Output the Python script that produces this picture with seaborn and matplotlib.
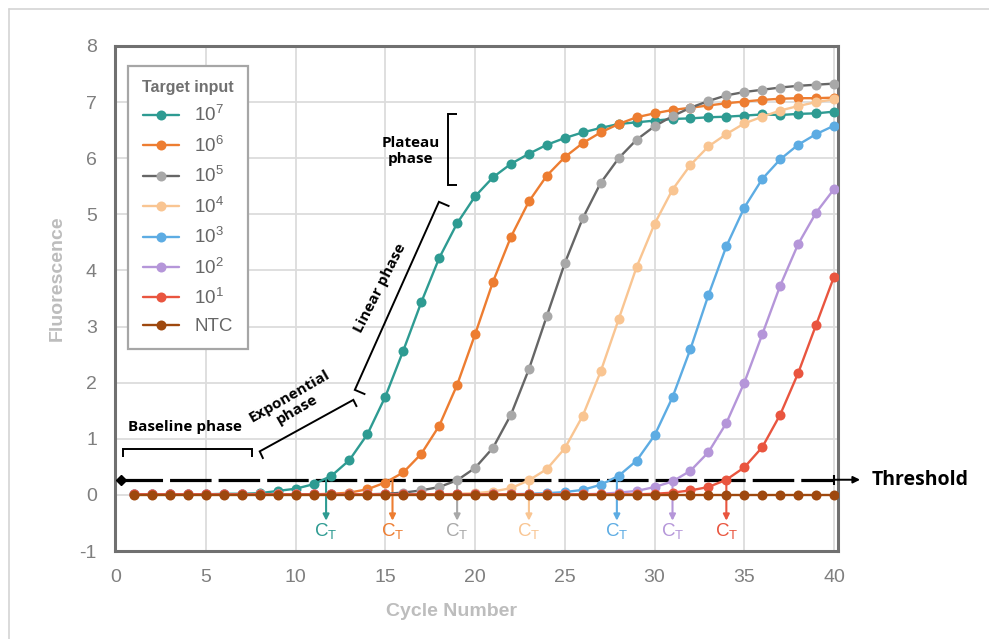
import numpy as np
import pandas as pd
import matplotlib
matplotlib.use("Agg")
import matplotlib.pyplot as plt
import seaborn as sns
from matplotlib.lines import Line2D

# ---------------- data ----------------
cycles = list(range(1, 41))
targets = ["10$^7$", "10$^6$", "10$^5$", "10$^4$", "10$^3$", "10$^2$", "10$^1$", "NTC"]

f_1e7 = [0.01, 0.01, 0.01, 0.01, 0.01, 0.02, 0.02, 0.03, 0.07, 0.11,
         0.19, 0.34, 0.62, 1.08, 1.75, 2.57, 3.43, 4.22, 4.84, 5.32,
         5.66, 5.90, 6.08, 6.24, 6.36, 6.46, 6.54, 6.61, 6.64, 6.67,
         6.70, 6.71, 6.73, 6.74, 6.76, 6.78, 6.77, 6.79, 6.80, 6.83]
f_1e6 = [0.01, 0.01, 0.01, 0.01, 0.01, 0.01, 0.01, 0.01, 0.01, 0.01,
         0.01, 0.02, 0.04, 0.10, 0.22, 0.40, 0.73, 1.23, 1.96, 2.86,
         3.80, 4.60, 5.23, 5.69, 6.02, 6.27, 6.46, 6.61, 6.73, 6.80,
         6.86, 6.90, 6.94, 6.98, 7.01, 7.04, 7.06, 7.07, 7.07, 7.08]
f_1e5 = [0.01, 0.01, 0.01, 0.01, 0.01, 0.01, 0.01, 0.01, 0.01, 0.01,
         0.01, 0.01, 0.01, 0.01, 0.02, 0.04, 0.08, 0.14, 0.26, 0.48,
         0.84, 1.43, 2.24, 3.19, 4.13, 4.93, 5.56, 6.00, 6.33, 6.57,
         6.75, 6.90, 7.02, 7.12, 7.18, 7.22, 7.26, 7.29, 7.31, 7.33]
f_1e4 = [0.01, 0.01, 0.01, 0.01, 0.01, 0.01, 0.01, 0.01, 0.01, 0.01,
         0.01, 0.01, 0.01, 0.01, 0.01, 0.01, 0.01, 0.01, 0.02, 0.03,
         0.06, 0.12, 0.26, 0.46, 0.83, 1.41, 2.20, 3.13, 4.06, 4.83,
         5.44, 5.88, 6.21, 6.43, 6.62, 6.74, 6.85, 6.93, 7.00, 7.05]
f_1e3 = [0.01, 0.01, 0.01, 0.01, 0.01, 0.01, 0.01, 0.01, 0.01, 0.01,
         0.01, 0.01, 0.01, 0.01, 0.01, 0.01, 0.01, 0.01, 0.01, 0.01,
         0.01, 0.01, 0.02, 0.03, 0.05, 0.09, 0.18, 0.34, 0.61, 1.06,
         1.74, 2.60, 3.56, 4.43, 5.12, 5.63, 5.98, 6.24, 6.43, 6.58]
f_1e2 = [0.01, 0.01, 0.01, 0.01, 0.01, 0.01, 0.01, 0.01, 0.01, 0.01,
         0.01, 0.01, 0.01, 0.01, 0.01, 0.01, 0.01, 0.01, 0.01, 0.01,
         0.01, 0.01, 0.01, 0.01, 0.01, 0.01, 0.02, 0.04, 0.07, 0.14,
         0.24, 0.43, 0.76, 1.28, 2.00, 2.86, 3.73, 4.47, 5.03, 5.45]
f_1e1 = [0.01, 0.01, 0.01, 0.01, 0.01, 0.01, 0.01, 0.01, 0.01, 0.01,
         0.01, 0.01, 0.01, 0.01, 0.01, 0.01, 0.01, 0.01, 0.01, 0.01,
         0.01, 0.01, 0.01, 0.01, 0.01, 0.01, 0.01, 0.01, 0.01, 0.02,
         0.04, 0.08, 0.14, 0.27, 0.49, 0.85, 1.43, 2.17, 3.03, 3.89]
f_ntc = [0.0] * 40

series = [f_1e7, f_1e6, f_1e5, f_1e4, f_1e3, f_1e2, f_1e1, f_ntc]

line_colors = ["#2E9B92", "#ED7D31", "#666666", "#F9C592", "#5DACE3", "#B596D9", "#E9553F", "#9E480E"]
marker_colors = ["#2E9B92", "#ED7D31", "#A8A8A8", "#F9C592", "#5DACE3", "#B596D9", "#E9553F", "#9E480E"]

ct_values = [11.7, 15.4, 19.0, 23.0, 27.9, 31.0, 34.0]
threshold = 0.27

x_ticks = list(range(0, 41, 5))
y_ticks = list(range(-1, 9))

# ---------------- style ----------------
sns.set_style("white")
plt.rcParams["font.family"] = ["Liberation Sans", "DejaVu Sans"]
plt.rcParams["mathtext.default"] = "regular"
plt.rcParams["axes.unicode_minus"] = False

fig = plt.figure(figsize=(9.89, 6.39), dpi=100)
W, H = 989, 639
ax = fig.add_axes([115 / W, 1 - 551 / H, (838 - 115) / W, (551 - 46) / H])

df = pd.DataFrame({
    "cycle": np.tile(cycles, len(targets)),
    "fluorescence": np.concatenate(series),
    "target": np.repeat(targets, len(cycles)),
})

for i, (name, lc, mc) in enumerate(zip(targets, line_colors, marker_colors)):
    sub = df[df["target"] == name]
    sns.lineplot(data=sub, x="cycle", y="fluorescence", ax=ax, color=lc,
                 marker="o", markersize=7.2, markerfacecolor=mc, markeredgecolor=mc,
                 markeredgewidth=0, linewidth=1.7, label=name, errorbar=None,
                 zorder=4 + i * 0.1, legend=False)

ax.set_xlim(-0.06, 40.22)
ax.set_ylim(-1, 8)
ax.set_xticks(x_ticks)
ax.set_yticks(y_ticks)
ax.grid(True, color="#dcdcdc", linewidth=1.3)
ax.set_axisbelow(True)
for s in ax.spines.values():
    s.set_color("#707070")
    s.set_linewidth(2.2)
ax.tick_params(axis="both", length=0, labelsize=14, labelcolor="#7f7f7f")
ax.tick_params(axis="y", pad=13)
ax.tick_params(axis="x", pad=13)

ax.set_xlabel("Cycle Number", fontsize=14, fontweight="bold", color="#bdbdbd", va="center")
ax.set_ylabel("Fluorescence", fontsize=14, fontweight="bold", color="#bdbdbd", va="center")
ax.xaxis.set_label_coords((452 - 115) / 723, (551 - 611) / 505)
ax.yaxis.set_label_coords((57 - 115) / 723, (551 - 278) / 505)

# ---------------- threshold ----------------
ax.plot([0.3, 40.0], [threshold, threshold], color="black", lw=2.3,
        dashes=(13, 2.2), zorder=3, solid_capstyle="butt")
ax.plot([0.3], [threshold], marker="D", color="black", markersize=5.5, zorder=3.2, clip_on=False)
ax.plot([40.0], [threshold], marker="|", color="black", markersize=7, mew=1.5, zorder=3.2, clip_on=False)
ax.annotate("", xy=(41.45, threshold), xytext=(40.0, threshold),
            arrowprops=dict(arrowstyle="-|>", color="black", lw=1.4, mutation_scale=10,
                            shrinkA=0, shrinkB=0), annotation_clip=False)
ax.text(42.1, threshold, "Threshold", fontsize=14, fontweight="bold",
        family=["Open Sans", "DejaVu Sans"],
        va="center", ha="left", color="black", clip_on=False)

# ---------------- CT markers ----------------
for ct, c in zip(ct_values, marker_colors[:7]):
    ax.annotate("", xy=(ct, -0.46), xytext=(ct, threshold),
                arrowprops=dict(arrowstyle="-|>", color=c, lw=1.5, mutation_scale=9,
                                shrinkA=0, shrinkB=0), zorder=3.5)
    ax.text(ct, -0.64, r"C$_T$", color=c, fontsize=13.5, ha="center", va="center")


# ---------------- phase annotations ----------------
def P(px, py):
    return (px - 116) / 17.93, (495 - py) / 56.1


def bracket(points):
    xs, ys = zip(*[P(*p) for p in points])
    ax.plot(xs, ys, color="black", lw=1.4, zorder=6, solid_capstyle="butt",
            solid_joinstyle="miter", clip_on=False)


afont = dict(fontsize=11, fontweight="bold", family=["Open Sans", "DejaVu Sans"], color="black")

# Baseline
bracket([(123, 457), (123, 449), (252, 449), (252, 457)])
x, y = P(185, 427)
ax.text(x, y, "Baseline phase", ha="center", va="center", **afont)

# Exponential
bracket([(263, 459), (259.5, 451.5), (353, 400), (356.5, 407)])
x, y = P(293, 403)
ax.text(x, y, "Exponential\nphase", ha="center", va="center", rotation=30,
        rotation_mode="anchor", multialignment="center", linespacing=1.1, **afont)

# Linear
bracket([(365, 394.5), (354.5, 390), (438.5, 202), (449, 206.5)])
x, y = P(380, 288)
ax.text(x, y, "Linear phase", ha="center", va="center", rotation=63,
        rotation_mode="anchor", **afont)

# Plateau
bracket([(457, 114), (448, 114), (448, 185), (457, 185)])
x, y = P(410, 151)
ax.text(x, y, "Plateau\nphase", ha="center", va="center", multialignment="center",
        linespacing=1.2, **afont)

# ---------------- legend ----------------
handles, labels = ax.get_legend_handles_labels()
leg = ax.legend(handles, labels, title="Target input", loc="upper left",
                bbox_to_anchor=((128 - 115) / 723, (551 - 66) / 505),
                borderaxespad=0, frameon=True, fancybox=False, framealpha=1,
                edgecolor="#a6a6a6", fontsize=13.5, labelcolor="#666666",
                title_fontproperties={"weight": "bold", "size": 11.5},
                handlelength=1.9, handletextpad=0.8, labelspacing=0.55,
                borderpad=0.75)
leg.get_title().set_color("#707070")
leg.get_frame().set_linewidth(1.6)
leg.set_zorder(10)

# ---------------- outer border ----------------
fig.add_artist(Line2D([9 / W, 9 / W], [0, 1 - 9 / H], color="#d4d4d4", lw=1.2))
fig.add_artist(Line2D([9 / W, 1], [1 - 9 / H, 1 - 9 / H], color="#d4d4d4", lw=1.2))

fig.savefig("out.png", dpi=100)
